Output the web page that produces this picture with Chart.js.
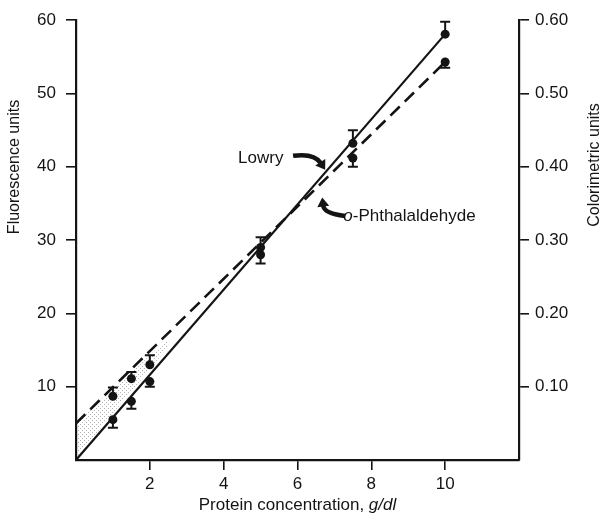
<!DOCTYPE html>
<html>
<head>
<meta charset="utf-8">
<script src="https://cdn.jsdelivr.net/npm/chart.js@4.4.0/dist/chart.umd.min.js"></script>
<style>
  html, body { margin: 0; padding: 0; background: #fff; }
  #wrap { width: 606px; height: 523px; }
</style>
</head>
<body>
<div id="wrap"><canvas id="chart" width="606" height="523"></canvas></div>
<script>
// === DATA ===
var concentration = [1, 1.5, 2, 5, 7.5, 10];          // g/dl

// Lowry points and one-sided error bars (negative = bar drawn below)
var lowryValues = [5.5, 8.0, 10.7, 29.0, 43.2, 58.1];
var lowryErr    = [-1.1, -1.0, -0.7, 1.4, 1.8, 1.7];

// o-phthalaldehyde points
var opaValues = [8.7, 11.1, 13.0, 28.0, 41.2, 54.3];
var opaErr    = [1.2, 0.9, 1.3, -1.2, -1.2, -0.8];

// fitted lines, end points
var fitX     = [0, 10];
var lowryFit = [0, 58.1];
var opaFit   = [5.0, 54.3];

// stippled wedge between the lines near the origin
var shadeX      = [0, 2.5];
var shadeTop    = [5.0, 16.6];
var shadeBottom = [0.3, 15.4];

// annotation anchors (data units)
var lowryLabelAt = [4.39, 41.2];
var lowryArrow   = [[5.88, 41.5], [6.45, 41.9], [6.75, 39.6]];
var opaLabelAt   = [7.24, 33.2];
var opaArrow     = [[7.29, 33.3], [6.72, 33.6], [6.67, 35.8]];

var FONT = '"Liberation Sans", Arial, Helvetica, sans-serif';
var INK = '#141414';

function pts(xs, ys) {
  return xs.map(function(x, i) { return { x: x, y: ys[i] }; });
}

function stipplePattern() {
  var c = document.createElement('canvas');
  c.width = 4; c.height = 4;
  var g = c.getContext('2d');
  g.fillStyle = 'rgba(0,0,0,0.3)';
  g.fillRect(0, 0, 1, 1);
  g.fillRect(2, 2, 1, 1);
  return g.createPattern(c, 'repeat');
}

// one-sided error bars with caps
var errorBars = {
  id: 'errorBars',
  afterDatasetsDraw: function(chart) {
    var ctx = chart.ctx, xs = chart.scales.x, ys = chart.scales.y;
    ctx.save();
    ctx.strokeStyle = INK;
    ctx.lineWidth = 2;
    [[lowryValues, lowryErr], [opaValues, opaErr]].forEach(function(s) {
      concentration.forEach(function(c, i) {
        var px = xs.getPixelForValue(c);
        var p0 = ys.getPixelForValue(s[0][i]);
        var p1 = ys.getPixelForValue(s[0][i] + s[1][i]);
        ctx.beginPath();
        ctx.moveTo(px, p0); ctx.lineTo(px, p1);
        ctx.moveTo(px - 5, p1); ctx.lineTo(px + 5, p1);
        ctx.stroke();
      });
    });
    ctx.restore();
  }
};

function drawArrow(ctx, xs, ys, a) {
  var t = { x: xs.getPixelForValue(a[0][0]), y: ys.getPixelForValue(a[0][1]) };
  var c = { x: xs.getPixelForValue(a[1][0]), y: ys.getPixelForValue(a[1][1]) };
  var h = { x: xs.getPixelForValue(a[2][0]), y: ys.getPixelForValue(a[2][1]) };
  var dx = h.x - c.x, dy = h.y - c.y, len = Math.sqrt(dx * dx + dy * dy);
  dx /= len; dy /= len;
  var bx = h.x - dx * 9, by = h.y - dy * 9;
  ctx.lineWidth = 4.5;
  ctx.beginPath();
  ctx.moveTo(t.x, t.y);
  ctx.quadraticCurveTo(c.x, c.y, bx + dx, by + dy);
  ctx.stroke();
  ctx.beginPath();
  ctx.moveTo(h.x, h.y);
  ctx.lineTo(bx - dy * 6, by + dx * 6);
  ctx.lineTo(bx + dy * 6, by - dx * 6);
  ctx.closePath();
  ctx.fill();
}

// axis titles and line labels
var labels = {
  id: 'labels',
  afterDraw: function(chart) {
    var ctx = chart.ctx, xs = chart.scales.x, ys = chart.scales.y;
    var area = chart.chartArea;
    ctx.save();
    ctx.fillStyle = INK;
    ctx.strokeStyle = INK;
    ctx.textBaseline = 'middle';

    // x title with italic unit
    var a = 'Protein concentration, ', b = 'g/dl';
    ctx.font = '17px ' + FONT;
    var wa = ctx.measureText(a).width;
    ctx.font = 'italic 17px ' + FONT;
    var wb = ctx.measureText(b).width;
    var x0 = (area.left + area.right) / 2 - (wa + wb) / 2;
    ctx.textAlign = 'left';
    ctx.font = '17px ' + FONT;
    ctx.fillText(a, x0, 505);
    ctx.font = 'italic 17px ' + FONT;
    ctx.fillText(b, x0 + wa, 505);

    // y titles, both reading upward
    ctx.font = '16px ' + FONT;
    ctx.textAlign = 'center';
    ctx.save();
    ctx.translate(15, 167);
    ctx.rotate(-Math.PI / 2);
    ctx.fillText('Fluorescence units', 0, 0);
    ctx.restore();
    ctx.save();
    ctx.translate(595, 165);
    ctx.rotate(-Math.PI / 2);
    ctx.fillText('Colorimetric units', 0, 0);
    ctx.restore();

    // line labels
    ctx.textAlign = 'left';
    ctx.font = '17px ' + FONT;
    ctx.fillText('Lowry', xs.getPixelForValue(lowryLabelAt[0]), ys.getPixelForValue(lowryLabelAt[1]));
    var ox = xs.getPixelForValue(opaLabelAt[0]), oy = ys.getPixelForValue(opaLabelAt[1]);
    ctx.font = 'italic 17px ' + FONT;
    ctx.fillText('o', ox, oy);
    var wo = ctx.measureText('o').width;
    ctx.font = '17px ' + FONT;
    ctx.fillText('-Phthalaldehyde', ox + wo, oy);

    drawArrow(ctx, xs, ys, lowryArrow);
    drawArrow(ctx, xs, ys, opaArrow);
    ctx.restore();
  }
};

function axisGrid() {
  return { display: true, drawOnChartArea: false, drawTicks: true, tickLength: 10, color: INK, lineWidth: 1.6 };
}
function dropEnds(max) {
  return function(s) {
    s.ticks = s.ticks.filter(function(t) { return t.value > 1e-6 && t.value < max - 1e-6; });
  };
}

new Chart(document.getElementById('chart'), {
  type: 'scatter',
  data: {
    datasets: [
      {
        label: 'shadeTop',
        data: pts(shadeX, shadeTop),
        showLine: true, borderWidth: 0, pointRadius: 0,
        backgroundColor: stipplePattern(),
        fill: '+1'
      },
      {
        label: 'shadeBottom',
        data: pts(shadeX, shadeBottom),
        showLine: true, borderWidth: 0, pointRadius: 0, fill: false
      },
      {
        label: 'Lowry fit',
        data: pts(fitX, lowryFit),
        showLine: true, borderColor: INK, borderWidth: 2.2, pointRadius: 0, fill: false
      },
      {
        label: 'o-Phthalaldehyde fit',
        data: pts(fitX, opaFit),
        showLine: true, borderColor: INK, borderWidth: 2.6, borderDash: [13, 7],
        pointRadius: 0, fill: false
      },
      {
        label: 'Lowry',
        data: pts(concentration, lowryValues),
        pointRadius: 4.5, pointBackgroundColor: INK, pointBorderWidth: 0
      },
      {
        label: 'o-Phthalaldehyde',
        data: pts(concentration, opaValues),
        pointRadius: 4.5, pointBackgroundColor: INK, pointBorderWidth: 0
      }
    ]
  },
  options: {
    responsive: false,
    animation: false,
    layout: { padding: { top: 20, left: 0, right: 0, bottom: 0 } },
    plugins: { legend: { display: false }, tooltip: { enabled: false } },
    scales: {
      x: {
        type: 'linear', min: 0, max: 12,
        ticks: { stepSize: 2, color: INK, font: { family: FONT, size: 17 }, padding: 4 },
        grid: axisGrid(),
        border: { display: true, color: INK, width: 2.2 },
        afterBuildTicks: dropEnds(12),
        afterFit: function(s) { s.height = 63; }
      },
      y: {
        position: 'left', min: 0, max: 60,
        ticks: { stepSize: 10, color: INK, font: { family: FONT, size: 17 }, padding: 10 },
        grid: axisGrid(),
        border: { display: true, color: INK, width: 2.2 },
        afterBuildTicks: dropEnds(1000),
        afterFit: function(s) { s.width = 76; }
      },
      y2: {
        position: 'right', min: 0, max: 0.6,
        ticks: {
          stepSize: 0.1, color: INK, font: { family: FONT, size: 17 }, padding: 6,
          callback: function(v) { return v.toFixed(2); }
        },
        grid: axisGrid(),
        border: { display: true, color: INK, width: 2.2 },
        afterBuildTicks: dropEnds(1000),
        afterFit: function(s) { s.width = 87; }
      }
    }
  },
  plugins: [errorBars, labels]
});
</script>
</body>
</html>
